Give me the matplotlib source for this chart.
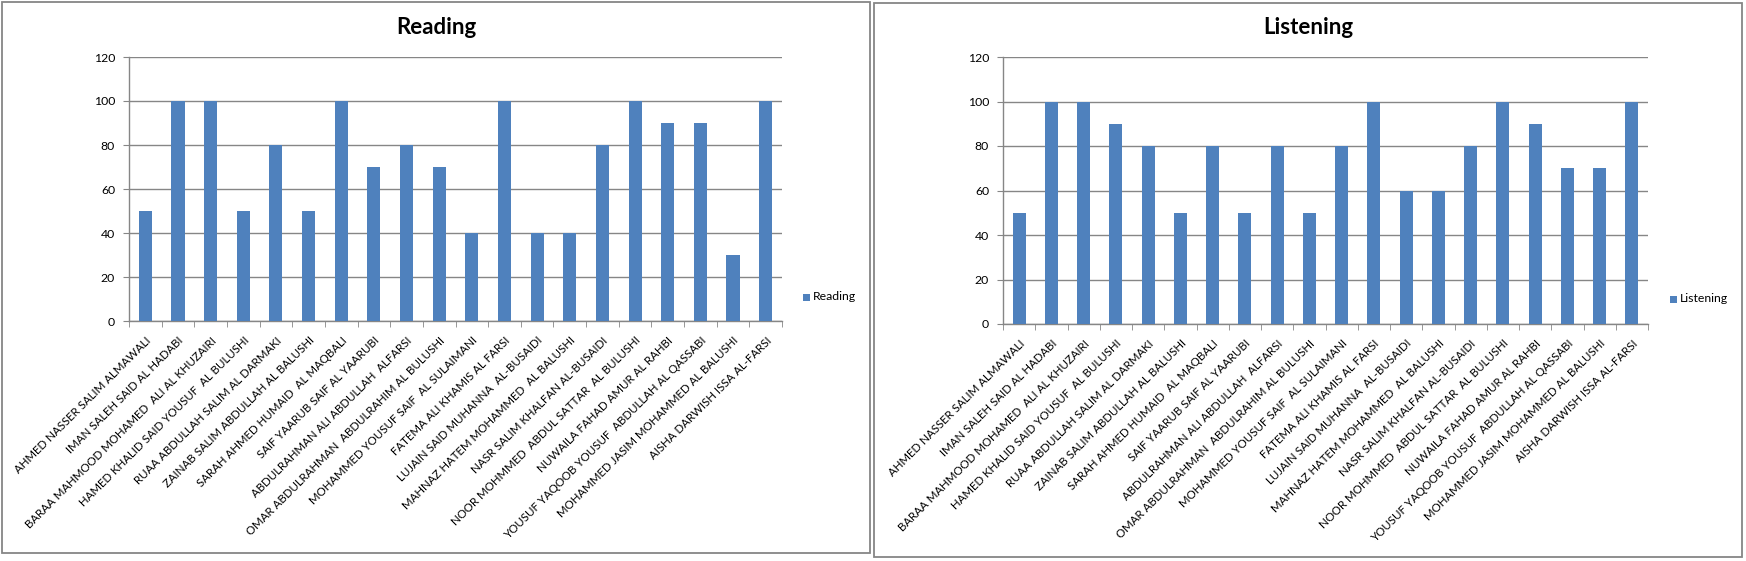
import matplotlib
matplotlib.use("Agg")
import matplotlib.pyplot as plt
from matplotlib.patches import Rectangle

plt.rcParams['font.family'] = ['Lato', 'DejaVu Sans']

students = [
    "AHMED NASSER SALIM ALMAWALI",
    "IMAN SALEH SAID AL HADABI",
    "BARAA MAHMOOD MOHAMED  ALI AL KHUZAIRI",
    "HAMED KHALID SAID YOUSUF  AL BULUSHI",
    "RUAA ABDULLAH SALIM AL DARMAKI",
    "ZAINAB SALIM ABDULLAH AL BALUSHI",
    "SARAH AHMED HUMAID  AL MAQBALI",
    "SAIF YAARUB SAIF AL YAARUBI",
    "ABDULRAHMAN ALI ABDULLAH  ALFARSI",
    "OMAR ABDULRAHMAN  ABDULRAHIM AL BULUSHI",
    "MOHAMMED YOUSUF SAIF  AL SULAIMANI",
    "FATEMA ALI KHAMIS AL FARSI",
    "LUJAIN SAID MUHANNA  AL-BUSAIDI",
    "MAHNAZ HATEM MOHAMMED  AL BALUSHI",
    "NASR SALIM KHALFAN AL-BUSAIDI",
    "NOOR MOHMMED  ABDUL SATTAR  AL BULUSHI",
    "NUWAILA FAHAD AMUR AL RAHBI",
    "YOUSUF YAQOOB YOUSUF  ABDULLAH AL QASSABI",
    "MOHAMMED JASIM MOHAMMED AL BALUSHI",
    "AISHA DARWISH ISSA AL-FARSI",
]
reading = [50, 100, 100, 50, 80, 50, 100, 70, 80, 70, 40, 100, 40, 40, 80, 100, 90, 90, 30, 100]
listening = [50, 100, 100, 90, 80, 50, 80, 50, 80, 50, 80, 100, 60, 60, 80, 100, 90, 70, 70, 100]
y_ticks = [0, 20, 40, 60, 80, 100, 120]

W, H = 1746, 561
fig = plt.figure(figsize=(W / 100, H / 100), dpi=100)
fig.patch.set_facecolor('white')

BAR = '#4F81BD'
GRID = '#868686'


def px_rect(x0, y0, x1, y1):
    return [x0 / W, 1 - y1 / H, (x1 - x0) / W, (y1 - y0) / H]


def panel(box, axbox, values, title, legend_xy):
    bx = px_rect(*box)
    fig.patches.append(Rectangle((bx[0], bx[1]), bx[2], bx[3], transform=fig.transFigure,
                                 fill=False, edgecolor='#868686', linewidth=1.3))
    ax = fig.add_axes(px_rect(*axbox))
    xs = list(range(len(values)))
    ax.bar(xs, values, width=0.4, color=BAR, zorder=3, label=title)
    ax.set_xlim(-0.5, len(values) - 0.5)
    ax.set_ylim(0, 120)
    ax.set_yticks(y_ticks)
    ax.set_yticklabels([str(v) for v in y_ticks], fontsize=8.8)
    ax.yaxis.grid(True, color=GRID, linewidth=1.0, zorder=0)
    ax.set_axisbelow(True)
    for s in ['top', 'right']:
        ax.spines[s].set_visible(False)
    for s in ['left', 'bottom']:
        ax.spines[s].set_color(GRID)
        ax.spines[s].set_linewidth(1.0)
    ax.tick_params(axis='y', length=4, color=GRID, pad=6, direction='out')
    ax.set_xticks(xs)
    ax.set_xticklabels(students, rotation=45, ha='right', va='top',
                       rotation_mode='anchor', fontsize=8.3)
    ax.tick_params(axis='x', which='major', length=0, pad=10)
    ax.set_xticks([x - 0.5 for x in range(len(values) + 1)], minor=True)
    ax.tick_params(axis='x', which='minor', length=4, color=GRID, direction='out')
    cx = (box[0] + box[2]) / 2 / W
    fig.text(cx, 1 - 27 / H, title, ha='center', va='center', fontsize=16,
             fontweight='bold', color='black')
    # legend
    lx, ly = legend_xy
    fig.patches.append(Rectangle((lx / W, 1 - (ly + 3.5) / H), 7 / W, 7 / H,
                                 transform=fig.transFigure, facecolor=BAR, edgecolor='none'))
    fig.text((lx + 10) / W, 1 - ly / H, title, ha='left', va='center', fontsize=8.8)
    return ax


panel((2, 2, 870, 553), (129, 57, 782, 321), reading, 'Reading', (803, 297))
panel((874, 3, 1742, 557), (1003, 57, 1648, 324), listening, 'Listening', (1670, 299))

fig.savefig('out.png', dpi=100, facecolor='white')
